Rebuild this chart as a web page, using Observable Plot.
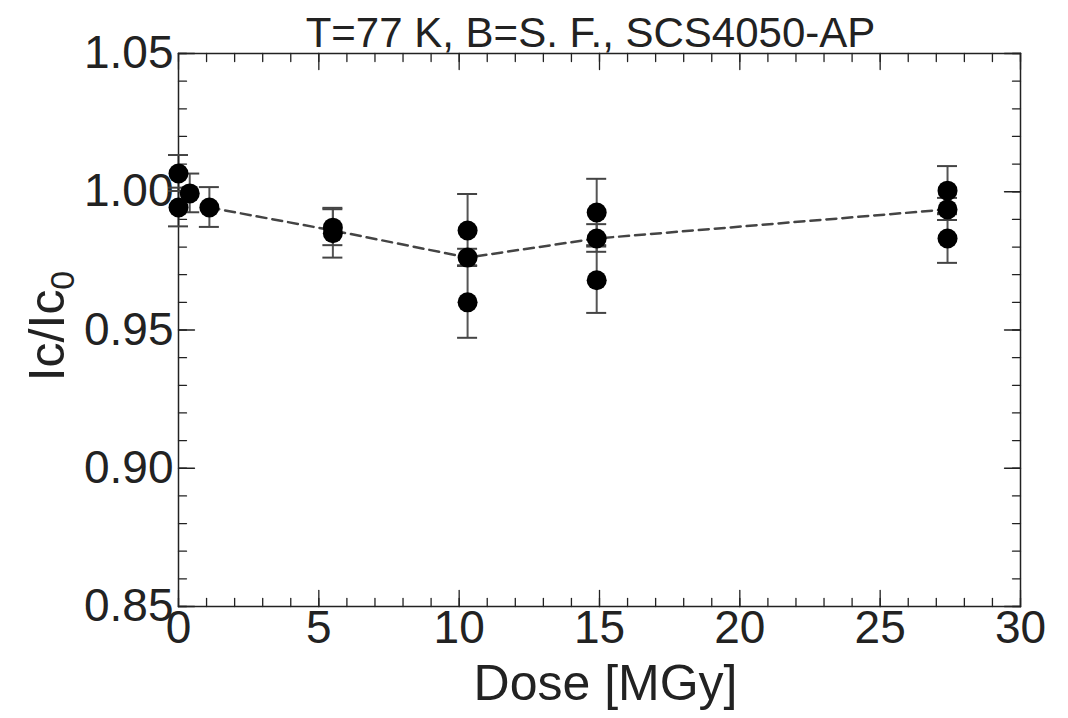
<!DOCTYPE html>
<html>
<head>
<meta charset="utf-8">
<script src="https://cdn.jsdelivr.net/npm/d3@7"></script>
<script src="https://cdn.jsdelivr.net/npm/@observablehq/plot@0.6"></script>
<style>
  html, body { margin: 0; padding: 0; background: #fff; }
  #chart svg { display: block; }
</style>
</head>
<body>
<div id="chart"></div>
<script>
const titleText = "T=77 K, B=S. F., SCS4050-AP";
const xLabel = "Dose [MGy]";
const yLabelMain = "Ic/Ic";
const yLabelSub = "0";

const doses  = [0, 0.4, 0, 1.1, 5.5, 5.5, 10.3, 10.3, 10.3, 14.9, 14.9, 14.9, 27.4, 27.4, 27.4];
const values = [1.0066, 0.9994, 0.9943, 0.9943, 0.987, 0.985, 0.986, 0.9762, 0.960, 0.9925, 0.9831, 0.968, 1.0004, 0.9936, 0.9831];
const errors = [0.0065, 0.007, 0.007, 0.0072, 0.0065, 0.009, 0.013, 0.003, 0.013, 0.012, 0.005, 0.012, 0.0087, 0.004, 0.009];

const meanDoses  = [1.1, 5.5, 10.3, 14.9, 27.4];
const meanValues = [0.9943, 0.986, 0.9762, 0.9831, 0.9936];

const xMajorTicks = [0, 5, 10, 15, 20, 25, 30];
const xMinorTicks = d3.range(0, 31, 1);
const yMajorTicks = [0.85, 0.90, 0.95, 1.00, 1.05];
const yMinorTicks = d3.range(85, 106, 1).map(d => d / 100);

const points = doses.map((d, i) => ({dose: d, value: values[i], lo: values[i] - errors[i], hi: values[i] + errors[i]}));
const means = meanDoses.map((d, i) => ({dose: d, value: meanValues[i]}));

const tickShape = {draw(ctx, l) { ctx.moveTo(0, 0); ctx.lineTo(0, -l); }};
const inward = (data, channel, frameAnchor, rotate, length) =>
  Plot.vector(data, {[channel]: d => d, frameAnchor, rotate, length, anchor: "start", shape: tickShape, stroke: "#222", strokeWidth: 1.3});

const FONT = "'Liberation Sans', Arial, Helvetica, sans-serif";

const plot = Plot.plot({
  width: 1068,
  height: 718,
  marginLeft: 178,
  marginRight: 48,
  marginTop: 53,
  marginBottom: 112,
  style: {fontFamily: FONT, color: "#222", background: "#fff"},
  x: {type: "linear", domain: [0, 30]},
  y: {type: "linear", domain: [0.85, 1.05]},
  marks: [
    inward(xMinorTicks, "x", "bottom", 0, 8),
    inward(xMajorTicks, "x", "bottom", 0, 16),
    inward(xMinorTicks, "x", "top", 180, 8),
    inward(xMajorTicks, "x", "top", 180, 16),
    inward(yMinorTicks, "y", "left", 90, 8),
    inward(yMajorTicks, "y", "left", 90, 16),
    inward(yMinorTicks, "y", "right", -90, 8),
    inward(yMajorTicks, "y", "right", -90, 16),
    Plot.axisX({ticks: xMajorTicks, tickSize: 0, tickPadding: 4, fontSize: 46, label: null, tickFormat: d3.format("d")}),
    Plot.axisY({ticks: yMajorTicks, tickSize: 0, tickPadding: 5, fontSize: 46, label: null, tickFormat: d3.format(".2f")}),
    Plot.lineY(means, {x: "dose", y: "value", stroke: "#444", strokeWidth: 2.5, strokeDasharray: "10,6"}),
    Plot.ruleX(points, {x: "dose", y1: "lo", y2: "hi", stroke: "#555", strokeWidth: 2}),
    Plot.dot(points, {x: "dose", y: "value", r: 10, fill: "#000", stroke: "none"}),
    Plot.frame({stroke: "#222", strokeWidth: 1.5}),
    Plot.text([titleText], {frameAnchor: "top", dy: -36, dx: -9, fontSize: 42, fill: "#222"}),
    Plot.text([xLabel], {frameAnchor: "bottom", dy: 93, dx: 6, fontSize: 50, fill: "#222"})
  ]
});

const svg = d3.select(plot);
const xs = plot.scale("x"), ys = plot.scale("y");
const capG = svg.append("g").attr("stroke", "#444").attr("stroke-width", 2);
points.forEach(p => {
  [p.lo, p.hi].forEach(v => {
    capG.append("line")
      .attr("x1", xs.apply(p.dose) - 10).attr("x2", xs.apply(p.dose) + 10)
      .attr("y1", ys.apply(v)).attr("y2", ys.apply(v));
  });
});
svg.selectAll("g[aria-label='dot']").raise();
svg.selectAll("g[aria-label='frame']").raise();

const yl = svg.append("text")
  .attr("transform", `translate(64, 326) rotate(-90)`)
  .attr("text-anchor", "middle")
  .attr("font-size", 50)
  .attr("fill", "#222")
  .attr("font-family", FONT);
yl.append("tspan").text(yLabelMain);
yl.append("tspan").attr("font-size", 34).attr("dy", 10).text(yLabelSub);

document.getElementById("chart").appendChild(plot);
</script>
</body>
</html>
